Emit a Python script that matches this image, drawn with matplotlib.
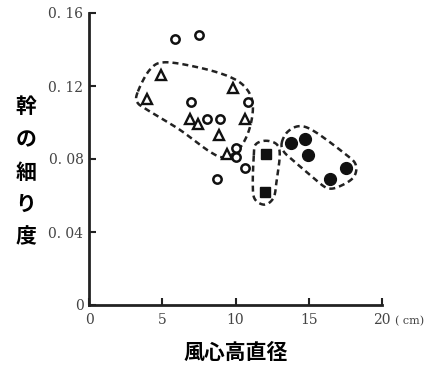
import numpy as np
import matplotlib
matplotlib.use("Agg")
import matplotlib.pyplot as plt

plt.rcParams['font.family'] = ['Noto Sans CJK JP', 'DejaVu Sans']

# ---- data ----
open_circle_x = [5.86, 7.50, 6.93, 8.06, 8.93, 10.86, 10.02, 10.02, 10.63, 8.75]
open_circle_y = [0.146, 0.148, 0.111, 0.102, 0.102, 0.111, 0.086, 0.081, 0.075, 0.069]

triangle_x = [4.89, 3.97, 9.84, 6.88, 7.45, 10.63, 8.88, 9.39]
triangle_y = [0.126, 0.113, 0.119, 0.102, 0.099, 0.102, 0.093, 0.083]

square_x = [12.11, 12.00]
square_y = [0.083, 0.062]

filled_circle_x = [13.82, 14.77, 14.95, 16.43, 17.52]
filled_circle_y = [0.089, 0.091, 0.082, 0.069, 0.075]

# dashed group outlines (data units)
tri_outline_x = [3.34, 4.16, 5.18, 7.57, 9.61, 10.70, 11.18, 10.97, 10.29, 9.27, 8.25, 6.20, 4.16, 3.30]
tri_outline_y = [0.117, 0.129, 0.133, 0.130, 0.125, 0.119, 0.110, 0.097, 0.086, 0.081, 0.084, 0.096, 0.106, 0.111]

sq_outline_x = [11.25, 11.38, 12.07, 12.82, 13.02, 12.82, 12.61, 12.00, 11.32, 11.18]
sq_outline_y = [0.082, 0.088, 0.090, 0.088, 0.082, 0.069, 0.059, 0.055, 0.058, 0.066]

fc_outline_x = [13.16, 13.57, 14.38, 15.41, 17.45, 18.20, 18.06, 17.10, 16.29, 15.41, 14.11, 13.30]
fc_outline_y = [0.089, 0.095, 0.098, 0.095, 0.083, 0.077, 0.070, 0.065, 0.064, 0.069, 0.078, 0.084]

xticks = [0, 5, 10, 15, 20]
yticks = [0, 0.04, 0.08, 0.12, 0.16]
ytick_labels = ['0', '0. 04', '0. 08', '0. 12', '0. 16']
ylabel_chars = ['幹', 'の', '細', 'り', '度']
xlabel = '風心高直径'
unit_label = '( cm)'


def smooth_closed(xs, ys, n=30):
    # closed Catmull-Rom spline in display-normalised space
    xs = np.asarray(xs, float)
    ys = np.asarray(ys, float)
    sx = 20.0
    sy = 0.16
    P = np.column_stack([xs / sx, ys / sy])
    m = len(P)
    out = []
    for i in range(m):
        p0, p1, p2, p3 = P[(i - 1) % m], P[i], P[(i + 1) % m], P[(i + 2) % m]
        for t in np.linspace(0, 1, n, endpoint=False):
            t2, t3 = t * t, t * t * t
            pt = 0.5 * ((2 * p1) + (-p0 + p2) * t + (2 * p0 - 5 * p1 + 4 * p2 - p3) * t2
                        + (-p0 + 3 * p1 - 3 * p2 + p3) * t3)
            out.append(pt)
    out.append(out[0])
    out = np.array(out)
    return out[:, 0] * sx, out[:, 1] * sy


fig = plt.figure(figsize=(4.30, 3.65), dpi=100)
ax = fig.add_axes([89 / 430, 60 / 365, 293 / 430, 292 / 365])
ax.set_xlim(0, 20)
ax.set_ylim(0, 0.16)

for ox, oy in [(tri_outline_x, tri_outline_y), (sq_outline_x, sq_outline_y), (fc_outline_x, fc_outline_y)]:
    cx, cy = smooth_closed(ox, oy)
    ax.plot(cx, cy, color='#222222', lw=1.8, ls=(0, (2.4, 1.6)), clip_on=False)

ax.plot(open_circle_x, open_circle_y, 'o', ms=6, mfc='white', mec='#111111', mew=1.8, ls='none', clip_on=False)
ax.plot(triangle_x, triangle_y, '^', ms=6.5, mfc='white', mec='#111111', mew=1.7, ls='none', clip_on=False)
ax.plot(square_x, square_y, 's', ms=6.5, mfc='#111111', mec='#111111', ls='none', clip_on=False)
ax.plot(filled_circle_x, filled_circle_y, 'o', ms=8.5, mfc='#111111', mec='#111111', ls='none', clip_on=False)

for s in ['top', 'right']:
    ax.spines[s].set_visible(False)
for s in ['left', 'bottom']:
    ax.spines[s].set_linewidth(2)
    ax.spines[s].set_color('#222222')

ax.set_xticks(xticks)
ax.set_xticklabels([str(v) for v in xticks], family=['DejaVu Serif'], fontsize=10, color='#444444')
ax.set_yticks(yticks)
ax.set_yticklabels(ytick_labels, family=['DejaVu Serif'], fontsize=10, color='#444444')
ax.tick_params(direction='in', length=5, width=1.5, color='#222222')
ax.tick_params(axis='x', pad=6)
ax.tick_params(axis='y', pad=4)

fig.text(26 / 430, 1 - 172 / 365, '\n'.join(ylabel_chars), ha='center', va='center',
         fontsize=15, fontweight='bold', linespacing=1.68)
fig.text(236 / 430, 1 - 352 / 365, xlabel, ha='center', va='center', fontsize=15, fontweight='bold')
fig.text(410 / 430, 1 - 321 / 365, unit_label, ha='center', va='center', fontsize=8,
         family=['DejaVu Serif'], color='#444444')

fig.savefig('out.png', dpi=100, facecolor='white')
